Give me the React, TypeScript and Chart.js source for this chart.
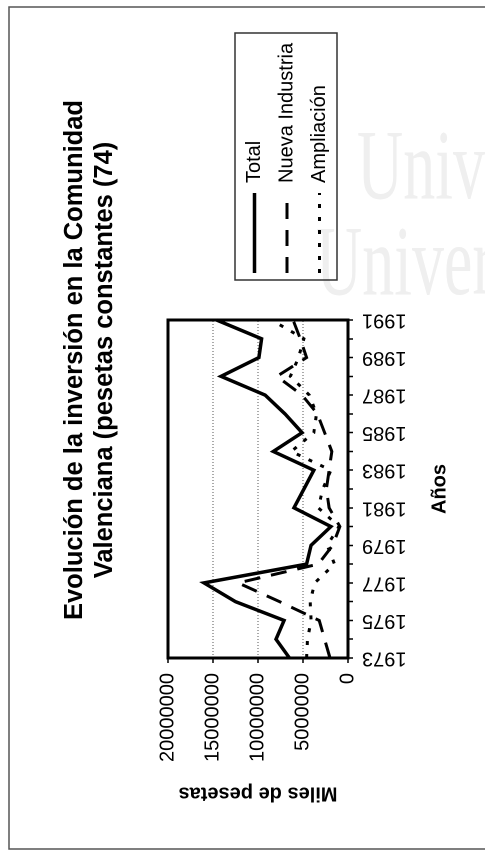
import React, { useEffect, useRef } from "react";
import { Chart, registerables } from "chart.js";

Chart.register(...registerables);

// ---- data ----
const years = ["1973","1974","1975","1976","1977","1978","1979","1980","1981","1982","1983","1984","1985","1986","1987","1988","1989","1990","1991"];
const total = [6500000, 8000000, 7100000, 12500000, 16000000, 4600000, 4100000, 1900000, 6000000, 4900000, 3800000, 8300000, 5100000, 7000000, 9200000, 14100000, 9900000, 9600000, 14600000];
const nuevaIndustria = [2000000, 2600000, 3200000, 7600000, 12200000, 3300000, 1700000, 900000, 2100000, 2400000, 2100000, 1800000, 2600000, 3400000, 5100000, 7900000, 4600000, 5300000, 6100000];
const ampliacion = [4600000, 4500000, 4100000, 4200000, 3700000, 1500000, 2300000, 1000000, 3300000, 2800000, 1900000, 6300000, 3800000, 3500000, 4300000, 6400000, 5500000, 4900000, 8500000];
const yTickValues = [0, 5000000, 10000000, 15000000, 20000000];
const titleLines = ["Evolución de la inversión en la Comunidad", "Valenciana (pesetas constantes (74)"];
const seriesNames = ["Total", "Nueva Industria", "Ampliación"];
const watermarkLines = ["Universitat d'Alacant", "Universidad de Alicante"];

const FONT = "'Liberation Sans', Arial, Helvetica, sans-serif";
const CW = 852; // unrotated chart width
const CH = 485; // unrotated chart height

export default function App() {
  const ref = useRef<HTMLCanvasElement | null>(null);

  useEffect(() => {
    if (!ref.current) return;

    const tweaks = {
      id: "tweaks",
      afterLayout(chart: any) {
        const t = chart.titleBlock;
        if (t) {
          t.left = 492 - 400;
          t.right = 492 + 400;
          t.width = 800;
        }
        const lg = chart.legend;
        if (lg) {
          const w = lg.width;
          lg.left = 566.5;
          lg.right = 566.5 + w;
          lg.top = 232;
          lg.bottom = 232 + 220;
          lg.height = 220;
        }
      },
      beforeDraw(chart: any) {
        const ctx = chart.ctx;
        ctx.save();
        ctx.strokeStyle = "#555555";
        ctx.lineWidth = 1.5;
        ctx.beginPath();
        ctx.moveTo(3, CH + 5);
        ctx.lineTo(3, 9);
        ctx.lineTo(845, 9);
        ctx.lineTo(845, CH + 5);
        ctx.stroke();
        ctx.restore();
      },
      afterDraw(chart: any) {
        const ctx = chart.ctx;
        const a = chart.chartArea;
        ctx.save();
        ctx.strokeStyle = "#000000";
        ctx.lineWidth = 3;
        ctx.strokeRect(a.left, a.top, a.right - a.left, a.bottom - a.top);
        ctx.lineWidth = 1.5;
        ctx.strokeStyle = "#333333";
        ctx.strokeRect(572, 235, 247, 102);
        ctx.restore();
      },
    };

    const chart = new Chart(ref.current, {
      type: "line",
      data: {
        labels: years,
        datasets: [
          {
            label: seriesNames[0],
            data: total,
            borderColor: "#000000",
            borderWidth: 3.5,
            pointRadius: 0,
            tension: 0,
            fill: false,
          },
          {
            label: seriesNames[1],
            data: nuevaIndustria,
            borderColor: "#000000",
            borderWidth: 3,
            borderDash: [16, 11],
            pointRadius: 0,
            tension: 0,
            fill: false,
          },
          {
            label: seriesNames[2],
            data: ampliacion,
            borderColor: "#000000",
            borderWidth: 3,
            borderDash: [4, 9],
            pointRadius: 0,
            tension: 0,
            fill: false,
          },
        ],
      },
      options: {
        animation: false,
        responsive: true,
        maintainAspectRatio: false,
        devicePixelRatio: 2,
        layout: { padding: { left: 0, right: CW - 532, top: 0, bottom: 27 } },
        plugins: {
          title: {
            display: true,
            text: titleLines,
            color: "#000000",
            font: { family: FONT, size: 25.5, weight: "bold", lineHeight: 30 / 25.5 },
            padding: { top: 60, bottom: 48 },
          },
          legend: {
            display: true,
            position: "chartArea",
            align: "start",
            labels: {
              usePointStyle: true,
              pointStyle: "line",
              pointStyleWidth: 80,
              color: "#000000",
              padding: 12.5,
              font: { family: FONT, size: 20 },
              generateLabels: (c: any) => {
                const items = Chart.defaults.plugins.legend.labels.generateLabels(c);
                items.forEach((it: any) => {
                  const ds: any = c.data.datasets[it.datasetIndex];
                  it.lineDash = ds.borderDash || [];
                  it.lineWidth = ds.borderWidth;
                  it.strokeStyle = ds.borderColor;
                  it.pointStyle = "line";
                  it.lineCap = "butt";
                });
                return items;
              },
            },
          },
          tooltip: { enabled: false },
        },
        scales: {
          x: {
            type: "category",
            offset: false,
            afterFit: (s: any) => { s.height = 110; },
            grid: {
              display: true,
              drawOnChartArea: false,
              drawTicks: true,
              tickLength: 5,
              tickColor: "#000000",
              tickWidth: 1.5,
            },
            border: { display: false },
            ticks: {
              autoSkip: false,
              maxRotation: 90,
              minRotation: 90,
              padding: 9,
              color: "#000000",
              font: { family: FONT, size: 20 },
              callback: (_v: any, i: number) => (i % 2 === 0 ? years[i] : ""),
            },
            title: {
              display: true,
              text: "Años",
              color: "#000000",
              font: { family: FONT, size: 20, weight: "bold" },
              padding: { top: 0, bottom: 6 },
            },
          },
          y: {
            min: 0,
            max: 20000000,
            afterFit: (s: any) => { s.width = 194; },
            afterBuildTicks: (s: any) => { s.ticks = yTickValues.map((v) => ({ value: v })); },
            grid: {
              display: true,
              drawOnChartArea: true,
              drawTicks: true,
              tickLength: 5,
              color: "#555555",
              lineWidth: 1,
              tickColor: "#000000",
              tickWidth: 1.5,
            },
            border: { display: false, dash: [1, 2] },
            ticks: {
              padding: 10,
              color: "#000000",
              font: { family: FONT, size: 20 },
              callback: (v: any) => String(v),
            },
            title: {
              display: true,
              text: "Miles de pesetas",
              color: "#000000",
              font: { family: FONT, size: 20, weight: "bold" },
              padding: { top: 47, bottom: 0 },
            },
          },
        },
      },
      plugins: [tweaks],
    } as any);

    return () => chart.destroy();
  }, []);

  const wmStyle: React.CSSProperties = {
    position: "absolute",
    whiteSpace: "nowrap",
    fontFamily: "'Liberation Serif', 'DejaVu Serif', serif",
    fontSize: 100,
    lineHeight: "100px",
    color: "#efefef",
    transformOrigin: "0 0",
    transform: "scaleX(0.64)",
  };

  return (
    <div
      style={{
        position: "fixed",
        left: 0,
        top: 0,
        width: 485,
        height: 852,
        overflow: "hidden",
        background: "#ffffff",
      }}
    >
      <div style={{ ...wmStyle, left: 357, top: 115 }}>{watermarkLines[0]}</div>
      <div style={{ ...wmStyle, left: 316, top: 211 }}>{watermarkLines[1]}</div>
      <div
        style={{
          position: "absolute",
          left: 0,
          top: 0,
          width: CW,
          height: CH,
          transformOrigin: "0 0",
          transform: `translate(0px, ${CW}px) rotate(-90deg)`,
        }}
      >
        <canvas ref={ref} />
      </div>
    </div>
  );
}
